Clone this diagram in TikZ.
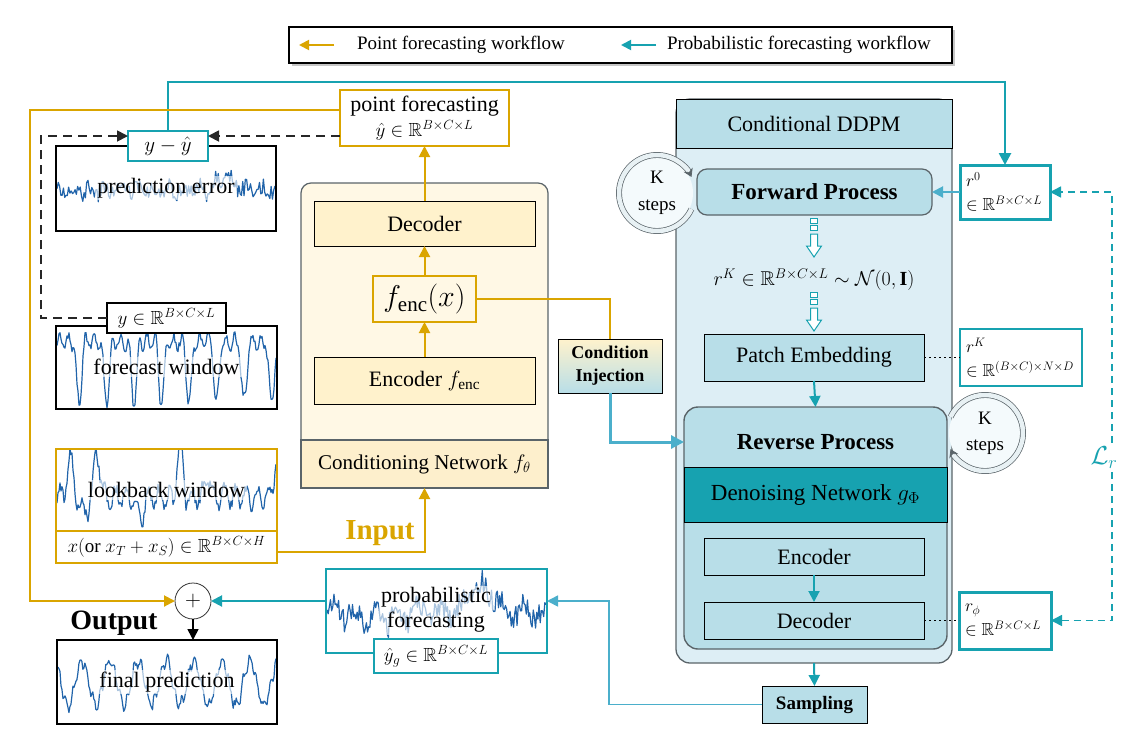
\RequirePackage{fix-cm}
\documentclass[tikz,border=0pt]{standalone}
\usepackage{amsmath,amssymb}
\usepackage{fontspec}
\setmainfont{Liberation Serif}
\usetikzlibrary{arrows.meta,shadows,calc}
\definecolor{gold}{RGB}{218,165,0}
\definecolor{tealS}{RGB}{23,162,176}
\definecolor{tealL}{RGB}{75,175,203}
\definecolor{hdr}{RGB}{184,222,232}
\definecolor{bodyc}{RGB}{221,238,245}
\definecolor{creamA}{RGB}{255,248,229}
\definecolor{creamB}{RGB}{255,242,204}
\definecolor{creamC}{RGB}{253,239,204}
\definecolor{dblue}{RGB}{33,100,170}
\definecolor{framec}{RGB}{90,100,105}
\definecolor{ringc}{RGB}{232,241,244}
\definecolor{kfill}{RGB}{244,250,252}
\newcommand\fsz[2]{\fontsize{#1}{#2}\selectfont}
\tikzset{
  every node/.style={inner sep=0pt, outer sep=0pt},
  wbox/.style={rectangle, draw=black, line width=1.8pt, fill=white},
  gbox/.style={rectangle, draw=gold, line width=2pt, fill=white},
  tbox/.style={rectangle, draw=tealS, line width=2pt, fill=white},
  tboxT/.style={rectangle, draw=tealS, line width=3pt, fill=white},
  cbox/.style={rectangle, draw=black, line width=0.9pt, fill=creamB},
  bbox/.style={rectangle, draw=black, line width=0.9pt, fill=hdr},
  series/.style={draw=dblue, line width=1.2pt, line join=round},
  txtbg/.style={fill=white, fill opacity=0.62, text opacity=1, inner sep=2pt},
  lbl/.style={font=\fsz{22}{26}},
  slbl/.style={font=\fsz{17.5}{24}, align=left, inner xsep=6pt},
  tip/.style={-{Triangle[length=11pt,width=11pt]}},
  garrow/.style={draw=gold, line width=2pt, tip},
  gline/.style={draw=gold, line width=2pt},
  tarrow/.style={draw=tealS, line width=2pt, tip},
  tarrowL/.style={draw=tealL, line width=2pt, tip},
  dline/.style={draw=black!85, line width=1.8pt, dash pattern=on 9pt off 6pt, tip},
  dotline/.style={draw=black, line width=1.8pt, dash pattern=on 1.6pt off 3.4pt},
  ring/.style={draw=framec, line width=0.7pt, double=ringc, double distance=4.5pt},
  kc/.style={circle, fill=kfill, minimum size=72pt, align=center, font=\fsz{19}{27}},
  hdown/.pic={
    \draw[draw=tealS, line width=1pt, fill=white] (-3.5,0) rectangle (3.5,5);
    \draw[draw=tealS, line width=1pt, fill=white] (-3.5,7) rectangle (3.5,12);
    \draw[draw=tealS, line width=1pt, fill=white] (-3.5,16) -- (3.5,16) -- (3.5,28) -- (7.5,28) -- (0,39) -- (-7.5,28) -- (-3.5,28) -- cycle;
  }
}
\begin{document}
\begin{tikzpicture}[x=1pt,y=-1pt,
  declare function={bump(\u)=(abs(\u)<1)*(0.5+0.5*cos(180*(\u)));}]
\useasboundingbox (0,0) rectangle (1121,739);

% ---------------- legend
\node[rectangle, draw=black, line width=1.3pt, fill=white, minimum width=663pt, minimum height=36pt,
  drop shadow={shadow xshift=3pt, shadow yshift=-3pt, opacity=0.45}] (legend) at (620.5,45) {};
\coordinate (lg1) at (334,45); \coordinate (lg2) at (299,45);
\draw[draw=gold, line width=1.8pt, -{Triangle[length=10pt,width=10pt]}] (lg1) -- (lg2);
\node[font=\fsz{19}{22}, anchor=west] (lt1) at (357,45) {Point forecasting workflow};
\coordinate (lg3) at (656,45); \coordinate (lg4) at (621,45);
\draw[draw=tealS, line width=1.8pt, -{Triangle[length=10pt,width=10pt]}] (lg3) -- (lg4);
\node[font=\fsz{19}{22}, anchor=west] (lt2) at (667,45) {Probabilistic forecasting workflow};

% ---------------- prediction error
\node[wbox, minimum width=220pt, minimum height=85pt] (perr) at (166,188.5) {};
\begin{scope}
  \clip (perr.south west) rectangle (perr.north east);
  \pgfmathsetseed{7}
  \draw[series] plot[domain=57:275, samples=170, variable=\t] (\t,{190+4*sin(\t*23)+8*rand-14*bump((\t-225)/20)});
\end{scope}
\node[lbl, txtbg] (perrt) at (166,188) {prediction error};
\draw[black, line width=1.8pt] (perr.south west) rectangle (perr.north east);
\node[tboxT, line width=2.6pt, minimum width=80pt, minimum height=30pt, font=\fsz{21}{22}] (ydiff) at (168,146) {$y-\hat{y}$};

% ---------------- forecast window
\node[wbox, minimum width=221pt, minimum height=83pt] (fwin) at (166.5,367.5) {};
\begin{scope}
  \clip (fwin.south west) rectangle (fwin.north east);
  \pgfmathsetseed{3}
  \draw[series] plot[domain=57:276, samples=220, variable=\t] (\t,{342+7*sin(\t*41)+4*rand+60*bump((mod(\t+17.25,27.5)/27.5-0.5)*4.5)});
\end{scope}
\node[lbl, txtbg] (fwint) at (166.5,367) {forecast window};
\draw[black, line width=1.8pt] (fwin.south west) rectangle (fwin.north east);
\node[wbox, line width=1.5pt, minimum width=119pt, minimum height=30pt, font=\fsz{19}{22}] (ylab) at (166.5,318) {$y\in\mathbb{R}^{B\times C\times L}$};

% ---------------- lookback window
\node[gbox, minimum width=221pt, minimum height=82pt] (lwin) at (166.5,490) {};
\begin{scope}
  \clip (lwin.south west) rectangle (lwin.north east);
  \pgfmathsetseed{5}
  \draw[series] plot[domain=57:276, samples=220, variable=\t] (\t,{497+10*sin(\t*33+60)+6*rand-38*bump((\t-70)/7)-45*bump((\t-97)/7)-48*bump((\t-180)/7)-25*bump((\t-208)/7)+16*bump((\t-85)/8)+18*bump((\t-140)/10)-30*bump((\t-276)/6)});
\end{scope}
\node[lbl, txtbg] (lwint) at (166.5,490) {lookback window};
\draw[gold, line width=2pt] (lwin.south west) rectangle (lwin.north east);
\node[gbox, minimum width=221pt, minimum height=32pt, font=\fsz{19}{22}] (xlab) at (166.5,547) {$x(\text{or }x_T+x_S)\in\mathbb{R}^{B\times C\times H}$};

% ---------------- plus, output, final prediction
\node[circle, draw=black!80, line width=0.8pt, fill=white, minimum size=36pt, font=\fsz{22}{22}] (plus) at (193,601) {$+$};
\node[font=\bfseries\fsz{28}{28}] (outl) at (114,623) {Output};
\node[wbox, minimum width=220pt, minimum height=84pt] (fpred) at (167,682) {};
\begin{scope}
  \clip (fpred.south west) rectangle (fpred.north east);
  \pgfmathsetseed{9}
  \draw[series] plot[domain=58:276, samples=220, variable=\t] (\t,{683-22*sin((\t-75)*12.86)+4*rand+5*sin(\t*53)});
\end{scope}
\node[lbl, txtbg] (fpredt) at (167,682) {final prediction};
\draw[black, line width=1.8pt] (fpred.south west) rectangle (fpred.north east);

% ---------------- conditioning network
\node[gbox, minimum width=169pt, minimum height=56pt, align=center, font=\fsz{22}{27}] (pf) at (424.5,118) {point forecasting\\[-2pt]{\fsz{19}{22}$\hat{y}\in\mathbb{R}^{B\times C\times L}$}};
\node[rectangle, draw=framec, line width=1.2pt, fill=creamA, rounded corners=10pt, minimum width=247pt, minimum height=305pt] (cond) at (424.5,335.5) {};
\node[rectangle, draw=framec, line width=1.2pt, fill=creamC, minimum width=247pt, minimum height=48pt, font=\fsz{21}{24}] (condnet) at (424.5,464) {Conditioning Network $f_\theta$};
\node[cbox, lbl, minimum width=221pt, minimum height=45pt] (cdec) at (424.5,223.5) {Decoder};
\node[gbox, fill=creamA, minimum width=103pt, minimum height=46pt, font=\fsz{30}{32}] (fenc) at (424.5,299) {$f_{\mathrm{enc}}(x)$};
\node[cbox, lbl, minimum width=221pt, minimum height=47pt] (cenc) at (424.5,380.5) {Encoder $f_{\mathrm{enc}}$};
\draw[garrow] (cdec.north) -- (pf.south);
\draw[garrow] (fenc.north) -- (cdec.south);
\draw[garrow] (cenc.north) -- (fenc.south);
\draw[garrow] ([yshift=-5pt]xlab.east) -| (condnet.south);
\node[font=\bfseries\fsz{29}{29}, text=gold] (inp) at (380,533) {Input};

% ---------------- condition injection
\node[rectangle, draw=black, line width=0.9pt, top color=creamB, bottom color=hdr, minimum width=104pt, minimum height=54pt, align=center, font=\bfseries\fsz{18}{23}] (cinj) at (610,366) {Condition\\Injection};
\draw[gline] (fenc.east) -| (cinj.north);

% ---------------- DDPM
\node[rectangle, draw=framec, line width=1.3pt, fill=bodyc, rounded corners=14pt, minimum width=276pt, minimum height=564pt] (ddpm) at (814,381) {};
\node[rectangle, draw=black, line width=0.9pt, fill=hdr, minimum width=276pt, minimum height=49pt, lbl] (ddpmh) at (814,123.5) {Conditional DDPM};

\node[kc] (kl) at (657,193) {K\\steps};
\draw[ring, -{Stealth[length=8pt,width=10pt]}] (kl.center) ++(25:38) arc[start angle=25, end angle=335, radius=38];

\node[rectangle, rounded corners=10pt, draw=framec, line width=1.2pt, fill=hdr, minimum width=235pt, minimum height=46pt, font=\bfseries\fsz{23}{26}] (fwd) at (814.5,192) {Forward Process};
\pic at (814,218) {hdown};
\node[font=\fsz{20}{22}] (rkt) at (814,280) {$r^K\in\mathbb{R}^{B\times C\times L}\sim\mathcal{N}(0,\mathbf{I})$};
\pic at (814,292) {hdown};
\node[bbox, lbl, minimum width=220pt, minimum height=47pt] (patch) at (814,357.5) {Patch Embedding};

\node[rectangle, rounded corners=14pt, draw=framec, line width=1.4pt, fill=hdr, minimum width=263pt, minimum height=242pt] (rev) at (815.5,528) {};
\node[font=\bfseries\fsz{23}{26}] (revt) at (815.5,442) {Reverse Process};
\node[rectangle, draw=black, line width=0.9pt, fill=tealS, minimum width=263pt, minimum height=55pt, font=\fsz{23}{26}] (dnet) at (815.5,494.5) {Denoising Network $g_\Phi$};
\node[bbox, lbl, minimum width=220pt, minimum height=37pt] (denc) at (814,556.5) {Encoder};
\node[bbox, lbl, minimum width=220pt, minimum height=37pt] (ddec) at (814,620.5) {Decoder};
\node[bbox, minimum width=105pt, minimum height=37pt, font=\bfseries\fsz{19}{22}] (samp) at (814.5,704.5) {Sampling};

\node[kc, font=\fsz{19}{26}] (kr) at (985,433) {K\\steps};
\draw[ring, -{Stealth[length=8pt,width=10pt]}] (kr.center) ++(-155:38) arc[start angle=-155, end angle=155, radius=38];

\draw[tarrow] (patch.south) -- (rev.north);
\draw[tarrow] (denc.south) -- (ddec.north);
\draw[tarrow] (ddpm.south) -- (samp.north);
\draw[draw=tealL, line width=3pt, -{Triangle[length=13pt,width=13pt]}] (cinj.south) |- (rev.west |- revt);

% ---------------- right column
\node[tboxT, slbl, text width=78pt, minimum height=54pt] (rzero) at (1005,192) {\mbox{$r^0$}\\\mbox{$\in\mathbb{R}^{B\times C\times L}$}};
\node[tbox, slbl, text width=110pt, minimum height=57pt] (rK) at (1021,357.5) {\mbox{$r^K$}\\\mbox{$\in\mathbb{R}^{(B\times C)\times N\times D}$}};
\node[tboxT, slbl, text width=80pt, minimum height=57pt] (rphi) at (1005,620.5) {\mbox{$r_\phi$}\\\mbox{$\in\mathbb{R}^{B\times C\times L}$}};
\draw[tarrowL] (rzero.west) -- (fwd.east);
\draw[dotline] (patch.east) -- (rK.west);
\draw[dotline] (ddec.east) -- (rphi.west);
\coordinate (lc) at (1112,400);
\draw[draw=tealS, line width=1.6pt, dash pattern=on 7pt off 5pt, {Triangle[length=11pt,width=11pt]}-{Triangle[length=11pt,width=11pt]}] (rphi.east) -| (lc) |- (rzero.east);
\node[font=\fsz{26}{26}, text=tealS, fill=white, inner sep=2pt] (lr) at (1104,458) {$\mathcal{L}_r$};

% ---------------- probabilistic forecasting
\node[tbox, minimum width=221pt, minimum height=84pt] (prob) at (436.5,611) {};
\begin{scope}
  \clip (prob.south west) rectangle (prob.north east);
  \pgfmathsetseed{13}
  \draw[series] plot[domain=327:546, samples=190, variable=\t] (\t,{612+8*sin(\t*17)+12*rand-24*bump((\t-482)/30)+8*bump((\t-380)/40)});
\end{scope}
\node[txtbg, align=center, font=\fsz{22}{25}] (probt) at (436,610) {probabilistic\\forecasting};
\draw[tealS, line width=2pt] (prob.south west) rectangle (prob.north east);
\node[tbox, minimum width=124pt, minimum height=34pt, font=\fsz{19}{22}] (yg) at (436,656) {$\hat{y}_g\in\mathbb{R}^{B\times C\times L}$};

% ---------------- long connectors
\coordinate (tt) at (1005,82);
\draw[draw=tealS, line width=2.6pt, -{Triangle[length=12pt,width=12pt]}] (ydiff.north) |- (tt) -- (rzero.north);
\coordinate (gc) at (30,601);
\draw[garrow] ([yshift=8pt]pf.west) -| (gc) -- (plus.west);
\coordinate (dA) at ([yshift=-18pt]pf.west);
\draw[dline] (dA) -- (dA -| ydiff.east);
\coordinate (dL) at (41,136);
\draw[dline] (ylab.west) -| (dL) -- (dL -| ydiff.west);
\coordinate (sc) at (609,601);
\draw[draw=tealL, line width=1.6pt, tip] (samp.west) -| (sc) -- (sc -| prob.east);
\draw[tarrow] (prob.west |- sc) -- (plus.east);
\draw[draw=black, line width=1.6pt, tip] (plus.south) -- (plus.south |- fpred.north);
\end{tikzpicture}
\end{document}
